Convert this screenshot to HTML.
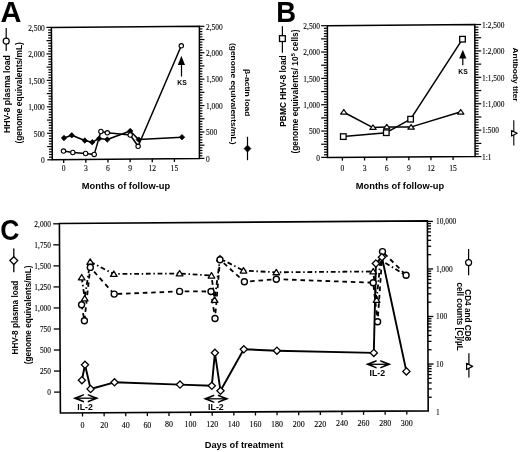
<!DOCTYPE html>
<html><head><meta charset="utf-8"><style>
html,body{margin:0;padding:0;background:#fff;}
svg{display:block;will-change:transform;}
</style></head><body>
<svg width="520" height="452" viewBox="0 0 520 452">
<rect width="520" height="452" fill="#fff"/>
<path d="M51.4,27.4L199.4,26.3L199.4,158.4L52.3,159.8Z" fill="none" stroke="#000" stroke-width="1.5" stroke-linejoin="miter"/>
<line x1="47.30" y1="159.80" x2="52.30" y2="159.80" stroke="#000" stroke-width="1.2" />
<text x="44.80" y="163.10" font-size="7.4" font-family="Liberation Serif, serif" stroke="#000" stroke-width="0.1" text-anchor="end" >0</text>
<line x1="48.98" y1="157.15" x2="52.28" y2="157.15" stroke="#000" stroke-width="1.2" />
<line x1="48.96" y1="154.50" x2="52.26" y2="154.50" stroke="#000" stroke-width="1.2" />
<line x1="48.95" y1="151.86" x2="52.25" y2="151.86" stroke="#000" stroke-width="1.2" />
<line x1="48.93" y1="149.21" x2="52.23" y2="149.21" stroke="#000" stroke-width="1.2" />
<line x1="47.21" y1="146.56" x2="52.21" y2="146.56" stroke="#000" stroke-width="1.2" />
<line x1="48.89" y1="143.91" x2="52.19" y2="143.91" stroke="#000" stroke-width="1.2" />
<line x1="48.87" y1="141.26" x2="52.17" y2="141.26" stroke="#000" stroke-width="1.2" />
<line x1="48.86" y1="138.62" x2="52.16" y2="138.62" stroke="#000" stroke-width="1.2" />
<line x1="48.84" y1="135.97" x2="52.14" y2="135.97" stroke="#000" stroke-width="1.2" />
<line x1="47.12" y1="133.32" x2="52.12" y2="133.32" stroke="#000" stroke-width="1.2" />
<text x="44.80" y="136.62" font-size="7.4" font-family="Liberation Serif, serif" stroke="#000" stroke-width="0.1" text-anchor="end" >500</text>
<line x1="48.80" y1="130.67" x2="52.10" y2="130.67" stroke="#000" stroke-width="1.2" />
<line x1="48.78" y1="128.02" x2="52.08" y2="128.02" stroke="#000" stroke-width="1.2" />
<line x1="48.77" y1="125.38" x2="52.07" y2="125.38" stroke="#000" stroke-width="1.2" />
<line x1="48.75" y1="122.73" x2="52.05" y2="122.73" stroke="#000" stroke-width="1.2" />
<line x1="47.03" y1="120.08" x2="52.03" y2="120.08" stroke="#000" stroke-width="1.2" />
<line x1="48.71" y1="117.43" x2="52.01" y2="117.43" stroke="#000" stroke-width="1.2" />
<line x1="48.69" y1="114.78" x2="51.99" y2="114.78" stroke="#000" stroke-width="1.2" />
<line x1="48.68" y1="112.14" x2="51.98" y2="112.14" stroke="#000" stroke-width="1.2" />
<line x1="48.66" y1="109.49" x2="51.96" y2="109.49" stroke="#000" stroke-width="1.2" />
<line x1="46.94" y1="106.84" x2="51.94" y2="106.84" stroke="#000" stroke-width="1.2" />
<text x="44.80" y="110.14" font-size="7.4" font-family="Liberation Serif, serif" stroke="#000" stroke-width="0.1" text-anchor="end" >1,000</text>
<line x1="48.62" y1="104.19" x2="51.92" y2="104.19" stroke="#000" stroke-width="1.2" />
<line x1="48.60" y1="101.54" x2="51.90" y2="101.54" stroke="#000" stroke-width="1.2" />
<line x1="48.59" y1="98.90" x2="51.89" y2="98.90" stroke="#000" stroke-width="1.2" />
<line x1="48.57" y1="96.25" x2="51.87" y2="96.25" stroke="#000" stroke-width="1.2" />
<line x1="46.85" y1="93.60" x2="51.85" y2="93.60" stroke="#000" stroke-width="1.2" />
<line x1="48.53" y1="90.95" x2="51.83" y2="90.95" stroke="#000" stroke-width="1.2" />
<line x1="48.51" y1="88.30" x2="51.81" y2="88.30" stroke="#000" stroke-width="1.2" />
<line x1="48.50" y1="85.66" x2="51.80" y2="85.66" stroke="#000" stroke-width="1.2" />
<line x1="48.48" y1="83.01" x2="51.78" y2="83.01" stroke="#000" stroke-width="1.2" />
<line x1="46.76" y1="80.36" x2="51.76" y2="80.36" stroke="#000" stroke-width="1.2" />
<text x="44.80" y="83.66" font-size="7.4" font-family="Liberation Serif, serif" stroke="#000" stroke-width="0.1" text-anchor="end" >1,500</text>
<line x1="48.44" y1="77.71" x2="51.74" y2="77.71" stroke="#000" stroke-width="1.2" />
<line x1="48.42" y1="75.06" x2="51.72" y2="75.06" stroke="#000" stroke-width="1.2" />
<line x1="48.41" y1="72.42" x2="51.71" y2="72.42" stroke="#000" stroke-width="1.2" />
<line x1="48.39" y1="69.77" x2="51.69" y2="69.77" stroke="#000" stroke-width="1.2" />
<line x1="46.67" y1="67.12" x2="51.67" y2="67.12" stroke="#000" stroke-width="1.2" />
<line x1="48.35" y1="64.47" x2="51.65" y2="64.47" stroke="#000" stroke-width="1.2" />
<line x1="48.33" y1="61.82" x2="51.63" y2="61.82" stroke="#000" stroke-width="1.2" />
<line x1="48.32" y1="59.18" x2="51.62" y2="59.18" stroke="#000" stroke-width="1.2" />
<line x1="48.30" y1="56.53" x2="51.60" y2="56.53" stroke="#000" stroke-width="1.2" />
<line x1="46.58" y1="53.88" x2="51.58" y2="53.88" stroke="#000" stroke-width="1.2" />
<text x="44.80" y="57.18" font-size="7.4" font-family="Liberation Serif, serif" stroke="#000" stroke-width="0.1" text-anchor="end" >2,000</text>
<line x1="48.26" y1="51.23" x2="51.56" y2="51.23" stroke="#000" stroke-width="1.2" />
<line x1="48.24" y1="48.58" x2="51.54" y2="48.58" stroke="#000" stroke-width="1.2" />
<line x1="48.23" y1="45.94" x2="51.53" y2="45.94" stroke="#000" stroke-width="1.2" />
<line x1="48.21" y1="43.29" x2="51.51" y2="43.29" stroke="#000" stroke-width="1.2" />
<line x1="46.49" y1="40.64" x2="51.49" y2="40.64" stroke="#000" stroke-width="1.2" />
<line x1="48.17" y1="37.99" x2="51.47" y2="37.99" stroke="#000" stroke-width="1.2" />
<line x1="48.15" y1="35.34" x2="51.45" y2="35.34" stroke="#000" stroke-width="1.2" />
<line x1="48.14" y1="32.70" x2="51.44" y2="32.70" stroke="#000" stroke-width="1.2" />
<line x1="48.12" y1="30.05" x2="51.42" y2="30.05" stroke="#000" stroke-width="1.2" />
<line x1="46.40" y1="27.40" x2="51.40" y2="27.40" stroke="#000" stroke-width="1.2" />
<text x="44.80" y="30.70" font-size="7.4" font-family="Liberation Serif, serif" stroke="#000" stroke-width="0.1" text-anchor="end" >2,500</text>
<line x1="199.40" y1="158.40" x2="204.40" y2="158.40" stroke="#000" stroke-width="1.2" />
<text x="206.00" y="161.70" font-size="7.4" font-family="Liberation Serif, serif" stroke="#000" stroke-width="0.1" text-anchor="start" >0</text>
<line x1="199.40" y1="155.76" x2="202.40" y2="155.76" stroke="#000" stroke-width="1.2" />
<line x1="199.40" y1="153.12" x2="202.40" y2="153.12" stroke="#000" stroke-width="1.2" />
<line x1="199.40" y1="150.47" x2="202.40" y2="150.47" stroke="#000" stroke-width="1.2" />
<line x1="199.40" y1="147.83" x2="202.40" y2="147.83" stroke="#000" stroke-width="1.2" />
<line x1="199.40" y1="145.19" x2="204.40" y2="145.19" stroke="#000" stroke-width="1.2" />
<line x1="199.40" y1="142.55" x2="202.40" y2="142.55" stroke="#000" stroke-width="1.2" />
<line x1="199.40" y1="139.91" x2="202.40" y2="139.91" stroke="#000" stroke-width="1.2" />
<line x1="199.40" y1="137.26" x2="202.40" y2="137.26" stroke="#000" stroke-width="1.2" />
<line x1="199.40" y1="134.62" x2="202.40" y2="134.62" stroke="#000" stroke-width="1.2" />
<line x1="199.40" y1="131.98" x2="204.40" y2="131.98" stroke="#000" stroke-width="1.2" />
<text x="206.00" y="135.28" font-size="7.4" font-family="Liberation Serif, serif" stroke="#000" stroke-width="0.1" text-anchor="start" >500</text>
<line x1="199.40" y1="129.34" x2="202.40" y2="129.34" stroke="#000" stroke-width="1.2" />
<line x1="199.40" y1="126.70" x2="202.40" y2="126.70" stroke="#000" stroke-width="1.2" />
<line x1="199.40" y1="124.05" x2="202.40" y2="124.05" stroke="#000" stroke-width="1.2" />
<line x1="199.40" y1="121.41" x2="202.40" y2="121.41" stroke="#000" stroke-width="1.2" />
<line x1="199.40" y1="118.77" x2="204.40" y2="118.77" stroke="#000" stroke-width="1.2" />
<line x1="199.40" y1="116.13" x2="202.40" y2="116.13" stroke="#000" stroke-width="1.2" />
<line x1="199.40" y1="113.49" x2="202.40" y2="113.49" stroke="#000" stroke-width="1.2" />
<line x1="199.40" y1="110.84" x2="202.40" y2="110.84" stroke="#000" stroke-width="1.2" />
<line x1="199.40" y1="108.20" x2="202.40" y2="108.20" stroke="#000" stroke-width="1.2" />
<line x1="199.40" y1="105.56" x2="204.40" y2="105.56" stroke="#000" stroke-width="1.2" />
<text x="206.00" y="108.86" font-size="7.4" font-family="Liberation Serif, serif" stroke="#000" stroke-width="0.1" text-anchor="start" >1,000</text>
<line x1="199.40" y1="102.92" x2="202.40" y2="102.92" stroke="#000" stroke-width="1.2" />
<line x1="199.40" y1="100.28" x2="202.40" y2="100.28" stroke="#000" stroke-width="1.2" />
<line x1="199.40" y1="97.63" x2="202.40" y2="97.63" stroke="#000" stroke-width="1.2" />
<line x1="199.40" y1="94.99" x2="202.40" y2="94.99" stroke="#000" stroke-width="1.2" />
<line x1="199.40" y1="92.35" x2="204.40" y2="92.35" stroke="#000" stroke-width="1.2" />
<line x1="199.40" y1="89.71" x2="202.40" y2="89.71" stroke="#000" stroke-width="1.2" />
<line x1="199.40" y1="87.07" x2="202.40" y2="87.07" stroke="#000" stroke-width="1.2" />
<line x1="199.40" y1="84.42" x2="202.40" y2="84.42" stroke="#000" stroke-width="1.2" />
<line x1="199.40" y1="81.78" x2="202.40" y2="81.78" stroke="#000" stroke-width="1.2" />
<line x1="199.40" y1="79.14" x2="204.40" y2="79.14" stroke="#000" stroke-width="1.2" />
<text x="206.00" y="82.44" font-size="7.4" font-family="Liberation Serif, serif" stroke="#000" stroke-width="0.1" text-anchor="start" >1,500</text>
<line x1="199.40" y1="76.50" x2="202.40" y2="76.50" stroke="#000" stroke-width="1.2" />
<line x1="199.40" y1="73.86" x2="202.40" y2="73.86" stroke="#000" stroke-width="1.2" />
<line x1="199.40" y1="71.21" x2="202.40" y2="71.21" stroke="#000" stroke-width="1.2" />
<line x1="199.40" y1="68.57" x2="202.40" y2="68.57" stroke="#000" stroke-width="1.2" />
<line x1="199.40" y1="65.93" x2="204.40" y2="65.93" stroke="#000" stroke-width="1.2" />
<line x1="199.40" y1="63.29" x2="202.40" y2="63.29" stroke="#000" stroke-width="1.2" />
<line x1="199.40" y1="60.65" x2="202.40" y2="60.65" stroke="#000" stroke-width="1.2" />
<line x1="199.40" y1="58.00" x2="202.40" y2="58.00" stroke="#000" stroke-width="1.2" />
<line x1="199.40" y1="55.36" x2="202.40" y2="55.36" stroke="#000" stroke-width="1.2" />
<line x1="199.40" y1="52.72" x2="204.40" y2="52.72" stroke="#000" stroke-width="1.2" />
<text x="206.00" y="56.02" font-size="7.4" font-family="Liberation Serif, serif" stroke="#000" stroke-width="0.1" text-anchor="start" >2,000</text>
<line x1="199.40" y1="50.08" x2="202.40" y2="50.08" stroke="#000" stroke-width="1.2" />
<line x1="199.40" y1="47.44" x2="202.40" y2="47.44" stroke="#000" stroke-width="1.2" />
<line x1="199.40" y1="44.79" x2="202.40" y2="44.79" stroke="#000" stroke-width="1.2" />
<line x1="199.40" y1="42.15" x2="202.40" y2="42.15" stroke="#000" stroke-width="1.2" />
<line x1="199.40" y1="39.51" x2="204.40" y2="39.51" stroke="#000" stroke-width="1.2" />
<line x1="199.40" y1="36.87" x2="202.40" y2="36.87" stroke="#000" stroke-width="1.2" />
<line x1="199.40" y1="34.23" x2="202.40" y2="34.23" stroke="#000" stroke-width="1.2" />
<line x1="199.40" y1="31.58" x2="202.40" y2="31.58" stroke="#000" stroke-width="1.2" />
<line x1="199.40" y1="28.94" x2="202.40" y2="28.94" stroke="#000" stroke-width="1.2" />
<line x1="199.40" y1="26.30" x2="204.40" y2="26.30" stroke="#000" stroke-width="1.2" />
<text x="206.00" y="29.60" font-size="7.4" font-family="Liberation Serif, serif" stroke="#000" stroke-width="0.1" text-anchor="start" >2,500</text>
<line x1="63.70" y1="159.69" x2="63.70" y2="162.99" stroke="#000" stroke-width="1.3" />
<text x="63.70" y="171.00" font-size="7.6" font-family="Liberation Serif, serif" stroke="#000" stroke-width="0.1" text-anchor="middle" >0</text>
<line x1="85.84" y1="159.48" x2="85.84" y2="162.78" stroke="#000" stroke-width="1.3" />
<text x="85.84" y="171.00" font-size="7.6" font-family="Liberation Serif, serif" stroke="#000" stroke-width="0.1" text-anchor="middle" >3</text>
<line x1="107.98" y1="159.27" x2="107.98" y2="162.57" stroke="#000" stroke-width="1.3" />
<text x="107.98" y="171.00" font-size="7.6" font-family="Liberation Serif, serif" stroke="#000" stroke-width="0.1" text-anchor="middle" >6</text>
<line x1="130.12" y1="159.06" x2="130.12" y2="162.36" stroke="#000" stroke-width="1.3" />
<text x="130.12" y="171.00" font-size="7.6" font-family="Liberation Serif, serif" stroke="#000" stroke-width="0.1" text-anchor="middle" >9</text>
<line x1="152.26" y1="158.85" x2="152.26" y2="162.15" stroke="#000" stroke-width="1.3" />
<text x="152.26" y="171.00" font-size="7.6" font-family="Liberation Serif, serif" stroke="#000" stroke-width="0.1" text-anchor="middle" >12</text>
<line x1="174.40" y1="158.64" x2="174.40" y2="161.94" stroke="#000" stroke-width="1.3" />
<text x="174.40" y="171.00" font-size="7.6" font-family="Liberation Serif, serif" stroke="#000" stroke-width="0.1" text-anchor="middle" >15</text>
<text x="126.00" y="188.50" font-size="9.3" font-family="Liberation Sans, sans-serif" font-weight="bold" text-anchor="middle" >Months of follow-up</text>
<text x="0.60" y="21.80" font-size="29" font-family="Liberation Sans, sans-serif" font-weight="bold" text-anchor="start" >A</text>
<text x="9.60" y="133.00" font-size="8.3" font-family="Liberation Sans, sans-serif" font-weight="bold" text-anchor="start" transform="rotate(-90 9.60 133.00)" textLength="77.8" lengthAdjust="spacingAndGlyphs" >HHV-8 plasma load</text>
<line x1="6.20" y1="28.00" x2="6.20" y2="51.00" stroke="#000" stroke-width="1.2" />
<circle cx="6.20" cy="41.20" r="3.0" fill="#fff" stroke="#000" stroke-width="1.2"/>
<text x="22.30" y="143.60" font-size="8.2" font-family="Liberation Sans, sans-serif" font-weight="bold" text-anchor="start" transform="rotate(-90 22.30 143.60)" textLength="101.5" lengthAdjust="spacingAndGlyphs" >(genome equivalents/mL)</text>
<text x="244.60" y="69.00" font-size="8.1" font-family="Liberation Sans, sans-serif" font-weight="bold" text-anchor="start" transform="rotate(90 244.60 69.00)" textLength="47.5" lengthAdjust="spacingAndGlyphs" >β-actin load</text>
<text x="230.60" y="43.00" font-size="8.0" font-family="Liberation Sans, sans-serif" font-weight="bold" text-anchor="start" transform="rotate(90 230.60 43.00)" textLength="101.5" lengthAdjust="spacingAndGlyphs" >(genome equivalents/mL)</text>
<line x1="247.50" y1="136.80" x2="247.50" y2="160.20" stroke="#000" stroke-width="1.2" />
<path d="M247.50,145.20L250.90,148.60L247.50,152.00L244.10,148.60Z" fill="#000" stroke="#000" stroke-width="0.8" stroke-linejoin="miter"/>
<polyline points="64.00,138.00 71.80,135.30 84.80,140.50 92.20,142.20 99.10,138.50 107.30,139.50 130.20,131.00 138.70,139.60 182.00,137.20" fill="none" stroke="#000" stroke-width="1.5" stroke-linejoin="round" />
<polyline points="63.50,151.10 72.80,152.50 85.60,153.50 94.20,154.40 100.90,131.50 107.30,132.80 130.20,135.00 138.10,146.30 181.30,45.80" fill="none" stroke="#000" stroke-width="1.5" stroke-linejoin="round" />
<path d="M64.00,135.30L66.70,138.00L64.00,140.70L61.30,138.00Z" fill="#000" stroke="#000" stroke-width="0.8" stroke-linejoin="miter"/>
<path d="M71.80,132.60L74.50,135.30L71.80,138.00L69.10,135.30Z" fill="#000" stroke="#000" stroke-width="0.8" stroke-linejoin="miter"/>
<path d="M84.80,137.80L87.50,140.50L84.80,143.20L82.10,140.50Z" fill="#000" stroke="#000" stroke-width="0.8" stroke-linejoin="miter"/>
<path d="M92.20,139.50L94.90,142.20L92.20,144.90L89.50,142.20Z" fill="#000" stroke="#000" stroke-width="0.8" stroke-linejoin="miter"/>
<path d="M99.10,135.80L101.80,138.50L99.10,141.20L96.40,138.50Z" fill="#000" stroke="#000" stroke-width="0.8" stroke-linejoin="miter"/>
<path d="M107.30,136.80L110.00,139.50L107.30,142.20L104.60,139.50Z" fill="#000" stroke="#000" stroke-width="0.8" stroke-linejoin="miter"/>
<path d="M130.20,128.30L132.90,131.00L130.20,133.70L127.50,131.00Z" fill="#000" stroke="#000" stroke-width="0.8" stroke-linejoin="miter"/>
<path d="M138.70,136.90L141.40,139.60L138.70,142.30L136.00,139.60Z" fill="#000" stroke="#000" stroke-width="0.8" stroke-linejoin="miter"/>
<path d="M182.00,134.50L184.70,137.20L182.00,139.90L179.30,137.20Z" fill="#000" stroke="#000" stroke-width="0.8" stroke-linejoin="miter"/>
<circle cx="63.50" cy="151.10" r="2.2" fill="#fff" stroke="#000" stroke-width="1.1"/>
<circle cx="72.80" cy="152.50" r="2.2" fill="#fff" stroke="#000" stroke-width="1.1"/>
<circle cx="85.60" cy="153.50" r="2.2" fill="#fff" stroke="#000" stroke-width="1.1"/>
<circle cx="94.20" cy="154.40" r="2.2" fill="#fff" stroke="#000" stroke-width="1.1"/>
<circle cx="100.90" cy="131.50" r="2.2" fill="#fff" stroke="#000" stroke-width="1.1"/>
<circle cx="107.30" cy="132.80" r="2.2" fill="#fff" stroke="#000" stroke-width="1.1"/>
<circle cx="130.20" cy="135.00" r="2.2" fill="#fff" stroke="#000" stroke-width="1.1"/>
<circle cx="138.10" cy="146.30" r="2.2" fill="#fff" stroke="#000" stroke-width="1.1"/>
<circle cx="181.30" cy="45.80" r="2.2" fill="#fff" stroke="#000" stroke-width="1.1"/>
<path d="M181.4,55.8L185.0,65.0L177.8,65.0Z" fill="#000"/>
<line x1="181.50" y1="63.00" x2="181.50" y2="76.50" stroke="#000" stroke-width="1.2" />
<text x="182.00" y="84.80" font-size="6.8" font-family="Liberation Sans, sans-serif" font-weight="bold" text-anchor="middle" >KS</text>
<path d="M327.4,25.7L474.8,24.5L475.1,156.6L327.5,157.4Z" fill="none" stroke="#000" stroke-width="1.5" stroke-linejoin="miter"/>
<line x1="321.20" y1="157.40" x2="327.50" y2="157.40" stroke="#000" stroke-width="1.2" />
<text x="320.00" y="160.70" font-size="7.4" font-family="Liberation Serif, serif" stroke="#000" stroke-width="0.1" text-anchor="end" >0</text>
<line x1="324.00" y1="154.77" x2="327.50" y2="154.77" stroke="#000" stroke-width="1.2" />
<line x1="324.00" y1="152.13" x2="327.50" y2="152.13" stroke="#000" stroke-width="1.2" />
<line x1="323.99" y1="149.50" x2="327.49" y2="149.50" stroke="#000" stroke-width="1.2" />
<line x1="323.99" y1="146.86" x2="327.49" y2="146.86" stroke="#000" stroke-width="1.2" />
<line x1="321.19" y1="144.23" x2="327.49" y2="144.23" stroke="#000" stroke-width="1.2" />
<line x1="323.99" y1="141.60" x2="327.49" y2="141.60" stroke="#000" stroke-width="1.2" />
<line x1="323.99" y1="138.96" x2="327.49" y2="138.96" stroke="#000" stroke-width="1.2" />
<line x1="323.98" y1="136.33" x2="327.48" y2="136.33" stroke="#000" stroke-width="1.2" />
<line x1="323.98" y1="133.69" x2="327.48" y2="133.69" stroke="#000" stroke-width="1.2" />
<line x1="321.18" y1="131.06" x2="327.48" y2="131.06" stroke="#000" stroke-width="1.2" />
<text x="320.00" y="134.36" font-size="7.4" font-family="Liberation Serif, serif" stroke="#000" stroke-width="0.1" text-anchor="end" >500</text>
<line x1="323.98" y1="128.43" x2="327.48" y2="128.43" stroke="#000" stroke-width="1.2" />
<line x1="323.98" y1="125.79" x2="327.48" y2="125.79" stroke="#000" stroke-width="1.2" />
<line x1="323.97" y1="123.16" x2="327.47" y2="123.16" stroke="#000" stroke-width="1.2" />
<line x1="323.97" y1="120.52" x2="327.47" y2="120.52" stroke="#000" stroke-width="1.2" />
<line x1="321.17" y1="117.89" x2="327.47" y2="117.89" stroke="#000" stroke-width="1.2" />
<line x1="323.97" y1="115.26" x2="327.47" y2="115.26" stroke="#000" stroke-width="1.2" />
<line x1="323.97" y1="112.62" x2="327.47" y2="112.62" stroke="#000" stroke-width="1.2" />
<line x1="323.96" y1="109.99" x2="327.46" y2="109.99" stroke="#000" stroke-width="1.2" />
<line x1="323.96" y1="107.35" x2="327.46" y2="107.35" stroke="#000" stroke-width="1.2" />
<line x1="321.16" y1="104.72" x2="327.46" y2="104.72" stroke="#000" stroke-width="1.2" />
<text x="320.00" y="108.02" font-size="7.4" font-family="Liberation Serif, serif" stroke="#000" stroke-width="0.1" text-anchor="end" >1,000</text>
<line x1="323.96" y1="102.09" x2="327.46" y2="102.09" stroke="#000" stroke-width="1.2" />
<line x1="323.96" y1="99.45" x2="327.46" y2="99.45" stroke="#000" stroke-width="1.2" />
<line x1="323.95" y1="96.82" x2="327.45" y2="96.82" stroke="#000" stroke-width="1.2" />
<line x1="323.95" y1="94.18" x2="327.45" y2="94.18" stroke="#000" stroke-width="1.2" />
<line x1="321.15" y1="91.55" x2="327.45" y2="91.55" stroke="#000" stroke-width="1.2" />
<line x1="323.95" y1="88.92" x2="327.45" y2="88.92" stroke="#000" stroke-width="1.2" />
<line x1="323.95" y1="86.28" x2="327.45" y2="86.28" stroke="#000" stroke-width="1.2" />
<line x1="323.94" y1="83.65" x2="327.44" y2="83.65" stroke="#000" stroke-width="1.2" />
<line x1="323.94" y1="81.01" x2="327.44" y2="81.01" stroke="#000" stroke-width="1.2" />
<line x1="321.14" y1="78.38" x2="327.44" y2="78.38" stroke="#000" stroke-width="1.2" />
<text x="320.00" y="81.68" font-size="7.4" font-family="Liberation Serif, serif" stroke="#000" stroke-width="0.1" text-anchor="end" >1,500</text>
<line x1="323.94" y1="75.75" x2="327.44" y2="75.75" stroke="#000" stroke-width="1.2" />
<line x1="323.94" y1="73.11" x2="327.44" y2="73.11" stroke="#000" stroke-width="1.2" />
<line x1="323.93" y1="70.48" x2="327.43" y2="70.48" stroke="#000" stroke-width="1.2" />
<line x1="323.93" y1="67.84" x2="327.43" y2="67.84" stroke="#000" stroke-width="1.2" />
<line x1="321.13" y1="65.21" x2="327.43" y2="65.21" stroke="#000" stroke-width="1.2" />
<line x1="323.93" y1="62.58" x2="327.43" y2="62.58" stroke="#000" stroke-width="1.2" />
<line x1="323.93" y1="59.94" x2="327.43" y2="59.94" stroke="#000" stroke-width="1.2" />
<line x1="323.92" y1="57.31" x2="327.42" y2="57.31" stroke="#000" stroke-width="1.2" />
<line x1="323.92" y1="54.67" x2="327.42" y2="54.67" stroke="#000" stroke-width="1.2" />
<line x1="321.12" y1="52.04" x2="327.42" y2="52.04" stroke="#000" stroke-width="1.2" />
<text x="320.00" y="55.34" font-size="7.4" font-family="Liberation Serif, serif" stroke="#000" stroke-width="0.1" text-anchor="end" >2,000</text>
<line x1="323.92" y1="49.41" x2="327.42" y2="49.41" stroke="#000" stroke-width="1.2" />
<line x1="323.92" y1="46.77" x2="327.42" y2="46.77" stroke="#000" stroke-width="1.2" />
<line x1="323.91" y1="44.14" x2="327.41" y2="44.14" stroke="#000" stroke-width="1.2" />
<line x1="323.91" y1="41.50" x2="327.41" y2="41.50" stroke="#000" stroke-width="1.2" />
<line x1="321.11" y1="38.87" x2="327.41" y2="38.87" stroke="#000" stroke-width="1.2" />
<line x1="323.91" y1="36.24" x2="327.41" y2="36.24" stroke="#000" stroke-width="1.2" />
<line x1="323.91" y1="33.60" x2="327.41" y2="33.60" stroke="#000" stroke-width="1.2" />
<line x1="323.90" y1="30.97" x2="327.40" y2="30.97" stroke="#000" stroke-width="1.2" />
<line x1="323.90" y1="28.33" x2="327.40" y2="28.33" stroke="#000" stroke-width="1.2" />
<line x1="321.10" y1="25.70" x2="327.40" y2="25.70" stroke="#000" stroke-width="1.2" />
<text x="320.00" y="29.00" font-size="7.4" font-family="Liberation Serif, serif" stroke="#000" stroke-width="0.1" text-anchor="end" >2,500</text>
<line x1="475.10" y1="156.60" x2="481.40" y2="156.60" stroke="#000" stroke-width="1.2" />
<text x="482.00" y="159.90" font-size="7.4" font-family="Liberation Serif, serif" stroke="#000" stroke-width="0.1" text-anchor="start" >1:1</text>
<line x1="475.09" y1="153.96" x2="478.69" y2="153.96" stroke="#000" stroke-width="1.2" />
<line x1="475.09" y1="151.32" x2="478.69" y2="151.32" stroke="#000" stroke-width="1.2" />
<line x1="475.08" y1="148.67" x2="478.68" y2="148.67" stroke="#000" stroke-width="1.2" />
<line x1="475.08" y1="146.03" x2="478.68" y2="146.03" stroke="#000" stroke-width="1.2" />
<line x1="475.07" y1="143.39" x2="481.37" y2="143.39" stroke="#000" stroke-width="1.2" />
<line x1="475.06" y1="140.75" x2="478.66" y2="140.75" stroke="#000" stroke-width="1.2" />
<line x1="475.06" y1="138.11" x2="478.66" y2="138.11" stroke="#000" stroke-width="1.2" />
<line x1="475.05" y1="135.46" x2="478.65" y2="135.46" stroke="#000" stroke-width="1.2" />
<line x1="475.05" y1="132.82" x2="478.65" y2="132.82" stroke="#000" stroke-width="1.2" />
<line x1="475.04" y1="130.18" x2="481.34" y2="130.18" stroke="#000" stroke-width="1.2" />
<text x="482.00" y="133.48" font-size="7.4" font-family="Liberation Serif, serif" stroke="#000" stroke-width="0.1" text-anchor="start" >1:500</text>
<line x1="475.03" y1="127.54" x2="478.63" y2="127.54" stroke="#000" stroke-width="1.2" />
<line x1="475.03" y1="124.90" x2="478.63" y2="124.90" stroke="#000" stroke-width="1.2" />
<line x1="475.02" y1="122.25" x2="478.62" y2="122.25" stroke="#000" stroke-width="1.2" />
<line x1="475.02" y1="119.61" x2="478.62" y2="119.61" stroke="#000" stroke-width="1.2" />
<line x1="475.01" y1="116.97" x2="481.31" y2="116.97" stroke="#000" stroke-width="1.2" />
<line x1="475.00" y1="114.33" x2="478.60" y2="114.33" stroke="#000" stroke-width="1.2" />
<line x1="475.00" y1="111.69" x2="478.60" y2="111.69" stroke="#000" stroke-width="1.2" />
<line x1="474.99" y1="109.04" x2="478.59" y2="109.04" stroke="#000" stroke-width="1.2" />
<line x1="474.99" y1="106.40" x2="478.59" y2="106.40" stroke="#000" stroke-width="1.2" />
<line x1="474.98" y1="103.76" x2="481.28" y2="103.76" stroke="#000" stroke-width="1.2" />
<text x="482.00" y="107.06" font-size="7.4" font-family="Liberation Serif, serif" stroke="#000" stroke-width="0.1" text-anchor="start" >1:1,000</text>
<line x1="474.97" y1="101.12" x2="478.57" y2="101.12" stroke="#000" stroke-width="1.2" />
<line x1="474.97" y1="98.48" x2="478.57" y2="98.48" stroke="#000" stroke-width="1.2" />
<line x1="474.96" y1="95.83" x2="478.56" y2="95.83" stroke="#000" stroke-width="1.2" />
<line x1="474.96" y1="93.19" x2="478.56" y2="93.19" stroke="#000" stroke-width="1.2" />
<line x1="474.95" y1="90.55" x2="481.25" y2="90.55" stroke="#000" stroke-width="1.2" />
<line x1="474.94" y1="87.91" x2="478.54" y2="87.91" stroke="#000" stroke-width="1.2" />
<line x1="474.94" y1="85.27" x2="478.54" y2="85.27" stroke="#000" stroke-width="1.2" />
<line x1="474.93" y1="82.62" x2="478.53" y2="82.62" stroke="#000" stroke-width="1.2" />
<line x1="474.93" y1="79.98" x2="478.53" y2="79.98" stroke="#000" stroke-width="1.2" />
<line x1="474.92" y1="77.34" x2="481.22" y2="77.34" stroke="#000" stroke-width="1.2" />
<text x="482.00" y="80.64" font-size="7.4" font-family="Liberation Serif, serif" stroke="#000" stroke-width="0.1" text-anchor="start" >1:1,500</text>
<line x1="474.91" y1="74.70" x2="478.51" y2="74.70" stroke="#000" stroke-width="1.2" />
<line x1="474.91" y1="72.06" x2="478.51" y2="72.06" stroke="#000" stroke-width="1.2" />
<line x1="474.90" y1="69.41" x2="478.50" y2="69.41" stroke="#000" stroke-width="1.2" />
<line x1="474.90" y1="66.77" x2="478.50" y2="66.77" stroke="#000" stroke-width="1.2" />
<line x1="474.89" y1="64.13" x2="481.19" y2="64.13" stroke="#000" stroke-width="1.2" />
<line x1="474.88" y1="61.49" x2="478.48" y2="61.49" stroke="#000" stroke-width="1.2" />
<line x1="474.88" y1="58.85" x2="478.48" y2="58.85" stroke="#000" stroke-width="1.2" />
<line x1="474.87" y1="56.20" x2="478.47" y2="56.20" stroke="#000" stroke-width="1.2" />
<line x1="474.87" y1="53.56" x2="478.47" y2="53.56" stroke="#000" stroke-width="1.2" />
<line x1="474.86" y1="50.92" x2="481.16" y2="50.92" stroke="#000" stroke-width="1.2" />
<text x="482.00" y="54.22" font-size="7.4" font-family="Liberation Serif, serif" stroke="#000" stroke-width="0.1" text-anchor="start" >1:2,000</text>
<line x1="474.85" y1="48.28" x2="478.45" y2="48.28" stroke="#000" stroke-width="1.2" />
<line x1="474.85" y1="45.64" x2="478.45" y2="45.64" stroke="#000" stroke-width="1.2" />
<line x1="474.84" y1="42.99" x2="478.44" y2="42.99" stroke="#000" stroke-width="1.2" />
<line x1="474.84" y1="40.35" x2="478.44" y2="40.35" stroke="#000" stroke-width="1.2" />
<line x1="474.83" y1="37.71" x2="481.13" y2="37.71" stroke="#000" stroke-width="1.2" />
<line x1="474.82" y1="35.07" x2="478.42" y2="35.07" stroke="#000" stroke-width="1.2" />
<line x1="474.82" y1="32.43" x2="478.42" y2="32.43" stroke="#000" stroke-width="1.2" />
<line x1="474.81" y1="29.78" x2="478.41" y2="29.78" stroke="#000" stroke-width="1.2" />
<line x1="474.81" y1="27.14" x2="478.41" y2="27.14" stroke="#000" stroke-width="1.2" />
<line x1="474.80" y1="24.50" x2="481.10" y2="24.50" stroke="#000" stroke-width="1.2" />
<text x="482.00" y="27.80" font-size="7.4" font-family="Liberation Serif, serif" stroke="#000" stroke-width="0.1" text-anchor="start" >1:2,500</text>
<line x1="342.40" y1="157.32" x2="342.40" y2="160.62" stroke="#000" stroke-width="1.3" />
<text x="342.40" y="170.60" font-size="7.6" font-family="Liberation Serif, serif" stroke="#000" stroke-width="0.1" text-anchor="middle" >0</text>
<line x1="364.54" y1="157.20" x2="364.54" y2="160.50" stroke="#000" stroke-width="1.3" />
<text x="364.54" y="170.60" font-size="7.6" font-family="Liberation Serif, serif" stroke="#000" stroke-width="0.1" text-anchor="middle" >3</text>
<line x1="386.68" y1="157.08" x2="386.68" y2="160.38" stroke="#000" stroke-width="1.3" />
<text x="386.68" y="170.60" font-size="7.6" font-family="Liberation Serif, serif" stroke="#000" stroke-width="0.1" text-anchor="middle" >6</text>
<line x1="408.82" y1="156.96" x2="408.82" y2="160.26" stroke="#000" stroke-width="1.3" />
<text x="408.82" y="170.60" font-size="7.6" font-family="Liberation Serif, serif" stroke="#000" stroke-width="0.1" text-anchor="middle" >9</text>
<line x1="430.96" y1="156.84" x2="430.96" y2="160.14" stroke="#000" stroke-width="1.3" />
<text x="430.96" y="170.60" font-size="7.6" font-family="Liberation Serif, serif" stroke="#000" stroke-width="0.1" text-anchor="middle" >12</text>
<line x1="453.10" y1="156.72" x2="453.10" y2="160.02" stroke="#000" stroke-width="1.3" />
<text x="453.10" y="170.60" font-size="7.6" font-family="Liberation Serif, serif" stroke="#000" stroke-width="0.1" text-anchor="middle" >15</text>
<text x="400.00" y="188.50" font-size="9.3" font-family="Liberation Sans, sans-serif" font-weight="bold" text-anchor="middle" >Months of follow-up</text>
<text x="276.20" y="21.80" font-size="29" font-family="Liberation Sans, sans-serif" font-weight="bold" text-anchor="start" textLength="19.8" lengthAdjust="spacingAndGlyphs" >B</text>
<text x="286.00" y="126.80" font-size="8.2" font-family="Liberation Sans, sans-serif" font-weight="bold" text-anchor="start" transform="rotate(-90 286.00 126.80)" textLength="71.5" lengthAdjust="spacingAndGlyphs" >PBMC HHV-8 load</text>
<line x1="282.40" y1="26.20" x2="282.40" y2="52.70" stroke="#000" stroke-width="1.2" />
<rect x="279.50" y="35.70" width="5.8" height="5.8" fill="#fff" stroke="#000" stroke-width="1.3"/>
<text x="298.00" y="153.60" font-size="8.4" font-family="Liberation Sans, sans-serif" font-weight="bold" text-anchor="start" transform="rotate(-90 298.00 153.60)" >(genome equivalents/ 10<tspan dy="-3" font-size="5.5">5</tspan><tspan dy="3"> cells)</tspan></text>
<text x="512.60" y="47.60" font-size="8.0" font-family="Liberation Sans, sans-serif" font-weight="bold" text-anchor="start" transform="rotate(90 512.60 47.60)" textLength="54.0" lengthAdjust="spacingAndGlyphs" >Antibody titer</text>
<line x1="513.80" y1="120.30" x2="513.80" y2="145.60" stroke="#000" stroke-width="1.1" />
<polygon points="517.18,133.30 511.58,136.00 511.58,130.60" fill="#fff" stroke="#000" stroke-width="1.2" stroke-linejoin="round"/>
<polyline points="343.30,136.60 386.30,132.70 410.60,119.20 462.50,39.20" fill="none" stroke="#000" stroke-width="1.5" stroke-linejoin="round" />
<polyline points="343.30,112.00 372.50,127.40 386.30,126.90 410.60,127.10 460.20,112.00" fill="none" stroke="#000" stroke-width="1.5" stroke-linejoin="round" />
<rect x="340.50" y="133.80" width="5.6" height="5.6" fill="#fff" stroke="#000" stroke-width="1.3"/>
<rect x="383.50" y="129.90" width="5.6" height="5.6" fill="#fff" stroke="#000" stroke-width="1.3"/>
<rect x="407.80" y="116.40" width="5.6" height="5.6" fill="#fff" stroke="#000" stroke-width="1.3"/>
<rect x="459.70" y="36.40" width="5.6" height="5.6" fill="#fff" stroke="#000" stroke-width="1.3"/>
<polygon points="343.80,109.47 347.00,114.07 340.60,114.07" fill="#fff" stroke="#000" stroke-width="1.2" stroke-linejoin="round"/>
<polygon points="373.00,124.87 376.20,129.47 369.80,129.47" fill="#fff" stroke="#000" stroke-width="1.2" stroke-linejoin="round"/>
<polygon points="386.80,124.37 390.00,128.97 383.60,128.97" fill="#fff" stroke="#000" stroke-width="1.2" stroke-linejoin="round"/>
<polygon points="411.10,124.57 414.30,129.17 407.90,129.17" fill="#fff" stroke="#000" stroke-width="1.2" stroke-linejoin="round"/>
<polygon points="460.70,109.47 463.90,114.07 457.50,114.07" fill="#fff" stroke="#000" stroke-width="1.2" stroke-linejoin="round"/>
<path d="M462.8,49.8L466.4,58.6L459.2,58.6Z" fill="#000"/>
<line x1="462.80" y1="56.00" x2="462.80" y2="65.20" stroke="#000" stroke-width="1.2" />
<text x="463.00" y="73.80" font-size="6.8" font-family="Liberation Sans, sans-serif" font-weight="bold" text-anchor="middle" >KS</text>
<path d="M59.4,223.5L427.4,220.9L428.2,410.9L60.4,413.0Z" fill="none" stroke="#000" stroke-width="1.6" stroke-linejoin="miter"/>
<line x1="54.09" y1="392.10" x2="60.29" y2="392.10" stroke="#000" stroke-width="1.3" />
<text x="0" y="0" font-size="7.4" font-family="Liberation Serif, serif" stroke="#000" stroke-width="0.1" text-anchor="end" transform="translate(51.00 395.00) rotate(0) scale(1 1.12)" >0</text>
<line x1="53.98" y1="371.06" x2="60.18" y2="371.06" stroke="#000" stroke-width="1.3" />
<text x="0" y="0" font-size="7.4" font-family="Liberation Serif, serif" stroke="#000" stroke-width="0.1" text-anchor="end" transform="translate(51.00 373.96) rotate(0) scale(1 1.12)" >250</text>
<line x1="53.87" y1="350.03" x2="60.07" y2="350.03" stroke="#000" stroke-width="1.3" />
<text x="0" y="0" font-size="7.4" font-family="Liberation Serif, serif" stroke="#000" stroke-width="0.1" text-anchor="end" transform="translate(51.00 352.93) rotate(0) scale(1 1.12)" >500</text>
<line x1="53.76" y1="328.99" x2="59.96" y2="328.99" stroke="#000" stroke-width="1.3" />
<text x="0" y="0" font-size="7.4" font-family="Liberation Serif, serif" stroke="#000" stroke-width="0.1" text-anchor="end" transform="translate(51.00 331.89) rotate(0) scale(1 1.12)" >750</text>
<line x1="53.65" y1="307.95" x2="59.85" y2="307.95" stroke="#000" stroke-width="1.3" />
<text x="0" y="0" font-size="7.4" font-family="Liberation Serif, serif" stroke="#000" stroke-width="0.1" text-anchor="end" transform="translate(51.00 310.85) rotate(0) scale(1 1.12)" >1,000</text>
<line x1="53.53" y1="286.91" x2="59.73" y2="286.91" stroke="#000" stroke-width="1.3" />
<text x="0" y="0" font-size="7.4" font-family="Liberation Serif, serif" stroke="#000" stroke-width="0.1" text-anchor="end" transform="translate(51.00 289.81) rotate(0) scale(1 1.12)" >1,250</text>
<line x1="53.42" y1="265.88" x2="59.62" y2="265.88" stroke="#000" stroke-width="1.3" />
<text x="0" y="0" font-size="7.4" font-family="Liberation Serif, serif" stroke="#000" stroke-width="0.1" text-anchor="end" transform="translate(51.00 268.77) rotate(0) scale(1 1.12)" >1,500</text>
<line x1="53.31" y1="244.84" x2="59.51" y2="244.84" stroke="#000" stroke-width="1.3" />
<text x="0" y="0" font-size="7.4" font-family="Liberation Serif, serif" stroke="#000" stroke-width="0.1" text-anchor="end" transform="translate(51.00 247.74) rotate(0) scale(1 1.12)" >1,750</text>
<line x1="53.20" y1="223.80" x2="59.40" y2="223.80" stroke="#000" stroke-width="1.3" />
<text x="0" y="0" font-size="7.4" font-family="Liberation Serif, serif" stroke="#000" stroke-width="0.1" text-anchor="end" transform="translate(51.00 226.70) rotate(0) scale(1 1.12)" >2,000</text>
<line x1="428.20" y1="411.60" x2="428.20" y2="411.60" stroke="#000" stroke-width="1.3" />
<line x1="428.14" y1="397.29" x2="431.74" y2="397.29" stroke="#000" stroke-width="1.3" />
<line x1="428.11" y1="388.91" x2="431.71" y2="388.91" stroke="#000" stroke-width="1.3" />
<line x1="428.08" y1="382.97" x2="431.68" y2="382.97" stroke="#000" stroke-width="1.3" />
<line x1="428.06" y1="378.36" x2="431.66" y2="378.36" stroke="#000" stroke-width="1.3" />
<line x1="428.05" y1="374.60" x2="431.65" y2="374.60" stroke="#000" stroke-width="1.3" />
<line x1="428.03" y1="371.42" x2="431.63" y2="371.42" stroke="#000" stroke-width="1.3" />
<line x1="428.02" y1="368.66" x2="431.62" y2="368.66" stroke="#000" stroke-width="1.3" />
<line x1="428.01" y1="366.23" x2="431.61" y2="366.23" stroke="#000" stroke-width="1.3" />
<line x1="428.00" y1="364.05" x2="433.50" y2="364.05" stroke="#000" stroke-width="1.3" />
<line x1="427.94" y1="349.74" x2="431.54" y2="349.74" stroke="#000" stroke-width="1.3" />
<line x1="427.91" y1="341.36" x2="431.51" y2="341.36" stroke="#000" stroke-width="1.3" />
<line x1="427.88" y1="335.42" x2="431.48" y2="335.42" stroke="#000" stroke-width="1.3" />
<line x1="427.86" y1="330.81" x2="431.46" y2="330.81" stroke="#000" stroke-width="1.3" />
<line x1="427.85" y1="327.05" x2="431.45" y2="327.05" stroke="#000" stroke-width="1.3" />
<line x1="427.83" y1="323.87" x2="431.43" y2="323.87" stroke="#000" stroke-width="1.3" />
<line x1="427.82" y1="321.11" x2="431.42" y2="321.11" stroke="#000" stroke-width="1.3" />
<line x1="427.81" y1="318.68" x2="431.41" y2="318.68" stroke="#000" stroke-width="1.3" />
<line x1="427.80" y1="316.50" x2="433.30" y2="316.50" stroke="#000" stroke-width="1.3" />
<line x1="427.74" y1="302.19" x2="431.34" y2="302.19" stroke="#000" stroke-width="1.3" />
<line x1="427.71" y1="293.81" x2="431.31" y2="293.81" stroke="#000" stroke-width="1.3" />
<line x1="427.68" y1="287.87" x2="431.28" y2="287.87" stroke="#000" stroke-width="1.3" />
<line x1="427.66" y1="283.26" x2="431.26" y2="283.26" stroke="#000" stroke-width="1.3" />
<line x1="427.65" y1="279.50" x2="431.25" y2="279.50" stroke="#000" stroke-width="1.3" />
<line x1="427.63" y1="276.32" x2="431.23" y2="276.32" stroke="#000" stroke-width="1.3" />
<line x1="427.62" y1="273.56" x2="431.22" y2="273.56" stroke="#000" stroke-width="1.3" />
<line x1="427.61" y1="271.13" x2="431.21" y2="271.13" stroke="#000" stroke-width="1.3" />
<line x1="427.60" y1="268.95" x2="433.10" y2="268.95" stroke="#000" stroke-width="1.3" />
<line x1="427.54" y1="254.64" x2="431.14" y2="254.64" stroke="#000" stroke-width="1.3" />
<line x1="427.51" y1="246.26" x2="431.11" y2="246.26" stroke="#000" stroke-width="1.3" />
<line x1="427.48" y1="240.32" x2="431.08" y2="240.32" stroke="#000" stroke-width="1.3" />
<line x1="427.46" y1="235.71" x2="431.06" y2="235.71" stroke="#000" stroke-width="1.3" />
<line x1="427.45" y1="231.95" x2="431.05" y2="231.95" stroke="#000" stroke-width="1.3" />
<line x1="427.43" y1="228.77" x2="431.03" y2="228.77" stroke="#000" stroke-width="1.3" />
<line x1="427.42" y1="226.01" x2="431.02" y2="226.01" stroke="#000" stroke-width="1.3" />
<line x1="427.41" y1="223.58" x2="431.01" y2="223.58" stroke="#000" stroke-width="1.3" />
<text x="0" y="0" font-size="7.4" font-family="Liberation Serif, serif" stroke="#000" stroke-width="0.1" text-anchor="start" transform="translate(436.00 414.50) rotate(0) scale(1 1.12)" >1</text>
<text x="0" y="0" font-size="7.4" font-family="Liberation Serif, serif" stroke="#000" stroke-width="0.1" text-anchor="start" transform="translate(436.00 366.95) rotate(0) scale(1 1.12)" >10</text>
<text x="0" y="0" font-size="7.4" font-family="Liberation Serif, serif" stroke="#000" stroke-width="0.1" text-anchor="start" transform="translate(436.00 319.40) rotate(0) scale(1 1.12)" >100</text>
<text x="0" y="0" font-size="7.4" font-family="Liberation Serif, serif" stroke="#000" stroke-width="0.1" text-anchor="start" transform="translate(436.00 271.85) rotate(0) scale(1 1.12)" >1,000</text>
<line x1="427.40" y1="221.40" x2="432.90" y2="221.40" stroke="#000" stroke-width="1.3" />
<text x="0" y="0" font-size="7.4" font-family="Liberation Serif, serif" stroke="#000" stroke-width="0.1" text-anchor="start" transform="translate(436.00 224.30) rotate(0) scale(1 1.12)" >10,000</text>
<line x1="82.50" y1="412.87" x2="82.50" y2="416.47" stroke="#000" stroke-width="1.3" />
<text x="0" y="0" font-size="8.0" font-family="Liberation Serif, serif" stroke="#000" stroke-width="0.1" text-anchor="middle" transform="translate(82.50 427.97) rotate(0) scale(1 1.1)" >0</text>
<line x1="104.12" y1="412.75" x2="104.12" y2="416.35" stroke="#000" stroke-width="1.3" />
<text x="0" y="0" font-size="8.0" font-family="Liberation Serif, serif" stroke="#000" stroke-width="0.1" text-anchor="middle" transform="translate(104.12 427.85) rotate(0) scale(1 1.1)" >20</text>
<line x1="125.74" y1="412.63" x2="125.74" y2="416.23" stroke="#000" stroke-width="1.3" />
<text x="0" y="0" font-size="8.0" font-family="Liberation Serif, serif" stroke="#000" stroke-width="0.1" text-anchor="middle" transform="translate(125.74 427.73) rotate(0) scale(1 1.1)" >40</text>
<line x1="147.36" y1="412.50" x2="147.36" y2="416.10" stroke="#000" stroke-width="1.3" />
<text x="0" y="0" font-size="8.0" font-family="Liberation Serif, serif" stroke="#000" stroke-width="0.1" text-anchor="middle" transform="translate(147.36 427.60) rotate(0) scale(1 1.1)" >60</text>
<line x1="168.98" y1="412.38" x2="168.98" y2="415.98" stroke="#000" stroke-width="1.3" />
<text x="0" y="0" font-size="8.0" font-family="Liberation Serif, serif" stroke="#000" stroke-width="0.1" text-anchor="middle" transform="translate(168.98 427.48) rotate(0) scale(1 1.1)" >80</text>
<line x1="190.60" y1="412.26" x2="190.60" y2="415.86" stroke="#000" stroke-width="1.3" />
<text x="0" y="0" font-size="8.0" font-family="Liberation Serif, serif" stroke="#000" stroke-width="0.1" text-anchor="middle" transform="translate(190.60 427.36) rotate(0) scale(1 1.1)" >100</text>
<line x1="212.22" y1="412.13" x2="212.22" y2="415.73" stroke="#000" stroke-width="1.3" />
<text x="0" y="0" font-size="8.0" font-family="Liberation Serif, serif" stroke="#000" stroke-width="0.1" text-anchor="middle" transform="translate(212.22 427.23) rotate(0) scale(1 1.1)" >120</text>
<line x1="233.84" y1="412.01" x2="233.84" y2="415.61" stroke="#000" stroke-width="1.3" />
<text x="0" y="0" font-size="8.0" font-family="Liberation Serif, serif" stroke="#000" stroke-width="0.1" text-anchor="middle" transform="translate(233.84 427.11) rotate(0) scale(1 1.1)" >140</text>
<line x1="255.46" y1="411.89" x2="255.46" y2="415.49" stroke="#000" stroke-width="1.3" />
<text x="0" y="0" font-size="8.0" font-family="Liberation Serif, serif" stroke="#000" stroke-width="0.1" text-anchor="middle" transform="translate(255.46 426.99) rotate(0) scale(1 1.1)" >160</text>
<line x1="277.08" y1="411.76" x2="277.08" y2="415.36" stroke="#000" stroke-width="1.3" />
<text x="0" y="0" font-size="8.0" font-family="Liberation Serif, serif" stroke="#000" stroke-width="0.1" text-anchor="middle" transform="translate(277.08 426.86) rotate(0) scale(1 1.1)" >180</text>
<line x1="298.70" y1="411.64" x2="298.70" y2="415.24" stroke="#000" stroke-width="1.3" />
<text x="0" y="0" font-size="8.0" font-family="Liberation Serif, serif" stroke="#000" stroke-width="0.1" text-anchor="middle" transform="translate(298.70 426.74) rotate(0) scale(1 1.1)" >200</text>
<line x1="320.32" y1="411.52" x2="320.32" y2="415.12" stroke="#000" stroke-width="1.3" />
<text x="0" y="0" font-size="8.0" font-family="Liberation Serif, serif" stroke="#000" stroke-width="0.1" text-anchor="middle" transform="translate(320.32 426.62) rotate(0) scale(1 1.1)" >220</text>
<line x1="341.94" y1="411.39" x2="341.94" y2="414.99" stroke="#000" stroke-width="1.3" />
<text x="0" y="0" font-size="8.0" font-family="Liberation Serif, serif" stroke="#000" stroke-width="0.1" text-anchor="middle" transform="translate(341.94 426.49) rotate(0) scale(1 1.1)" >240</text>
<line x1="363.56" y1="411.27" x2="363.56" y2="414.87" stroke="#000" stroke-width="1.3" />
<text x="0" y="0" font-size="8.0" font-family="Liberation Serif, serif" stroke="#000" stroke-width="0.1" text-anchor="middle" transform="translate(363.56 426.37) rotate(0) scale(1 1.1)" >260</text>
<line x1="385.18" y1="411.15" x2="385.18" y2="414.75" stroke="#000" stroke-width="1.3" />
<text x="0" y="0" font-size="8.0" font-family="Liberation Serif, serif" stroke="#000" stroke-width="0.1" text-anchor="middle" transform="translate(385.18 426.25) rotate(0) scale(1 1.1)" >280</text>
<line x1="406.80" y1="411.02" x2="406.80" y2="414.62" stroke="#000" stroke-width="1.3" />
<text x="0" y="0" font-size="8.0" font-family="Liberation Serif, serif" stroke="#000" stroke-width="0.1" text-anchor="middle" transform="translate(406.80 426.12) rotate(0) scale(1 1.1)" >300</text>
<text x="244.00" y="447.90" font-size="9.3" font-family="Liberation Sans, sans-serif" font-weight="bold" text-anchor="middle" >Days of treatment</text>
<text x="0.30" y="240.40" font-size="29" font-family="Liberation Sans, sans-serif" font-weight="bold" text-anchor="start" textLength="19.2" lengthAdjust="spacingAndGlyphs" >C</text>
<text x="17.80" y="354.50" font-size="8.2" font-family="Liberation Sans, sans-serif" font-weight="bold" text-anchor="start" transform="rotate(-90 17.80 354.50)" >HHV-8 plasma load</text>
<line x1="13.80" y1="248.40" x2="13.80" y2="272.30" stroke="#000" stroke-width="1.3" />
<path d="M13.80,256.70L17.70,260.60L13.80,264.50L9.90,260.60Z" fill="#fff" stroke="#000" stroke-width="1.3" stroke-linejoin="miter"/>
<text x="31.00" y="364.20" font-size="8.2" font-family="Liberation Sans, sans-serif" font-weight="bold" text-anchor="start" transform="rotate(-90 31.00 364.20)" >(genome equivalents/mL)</text>
<text x="465.40" y="315.20" font-size="8.2" font-family="Liberation Sans, sans-serif" font-weight="bold" text-anchor="middle" transform="rotate(90 465.40 315.20)" >CD4 and CD8</text>
<text x="457.30" y="316.60" font-size="8.2" font-family="Liberation Sans, sans-serif" font-weight="bold" text-anchor="middle" transform="rotate(90 457.30 316.60)" >cell counts [C]/µL</text>
<line x1="468.60" y1="249.00" x2="468.60" y2="275.20" stroke="#000" stroke-width="1.2" />
<circle cx="468.60" cy="262.60" r="3.0" fill="#fff" stroke="#000" stroke-width="1.2"/>
<line x1="468.90" y1="353.30" x2="468.90" y2="377.60" stroke="#000" stroke-width="1.2" />
<polygon points="472.60,366.40 466.60,369.50 466.60,363.30" fill="#fff" stroke="#000" stroke-width="1.2" stroke-linejoin="round"/>
<polyline points="81.70,277.50 84.70,298.50 90.20,261.80 113.80,274.00 179.60,273.50 211.50,275.60 214.60,299.90 220.00,258.50 243.50,270.60 276.30,272.30 373.20,271.50 376.60,300.00 380.50,260.00 406.10,275.50" fill="none" stroke="#000" stroke-width="1.8" stroke-linejoin="round" stroke-dasharray="4.8 2.7 1.5 2.7"/>
<polyline points="81.60,304.80 84.40,320.80 90.30,267.40 114.20,294.10 179.60,291.40 211.00,291.50 215.00,318.50 220.00,259.70 244.40,281.80 276.30,279.20 373.20,282.70 377.60,321.70 382.50,251.60 406.10,275.20" fill="none" stroke="#000" stroke-width="1.8" stroke-linejoin="round" stroke-dasharray="4.6 3.8"/>
<polyline points="81.90,380.20 85.00,364.80 90.60,389.00 114.50,382.30 180.00,384.60 211.80,385.80 214.90,352.80 220.50,390.80 243.80,349.30 276.90,350.70 373.80,352.90 375.90,263.50 381.90,257.20 406.40,371.40" fill="none" stroke="#000" stroke-width="1.9" stroke-linejoin="round" />
<polygon points="81.70,274.53 85.00,279.93 78.40,279.93" fill="#fff" stroke="#000" stroke-width="1.3" stroke-linejoin="round"/>
<polygon points="84.70,295.53 88.00,300.93 81.40,300.93" fill="#fff" stroke="#000" stroke-width="1.3" stroke-linejoin="round"/>
<polygon points="90.20,258.83 93.50,264.23 86.90,264.23" fill="#fff" stroke="#000" stroke-width="1.3" stroke-linejoin="round"/>
<polygon points="113.80,271.03 117.10,276.43 110.50,276.43" fill="#fff" stroke="#000" stroke-width="1.3" stroke-linejoin="round"/>
<polygon points="179.60,270.53 182.90,275.93 176.30,275.93" fill="#fff" stroke="#000" stroke-width="1.3" stroke-linejoin="round"/>
<polygon points="211.50,272.63 214.80,278.03 208.20,278.03" fill="#fff" stroke="#000" stroke-width="1.3" stroke-linejoin="round"/>
<polygon points="214.60,296.93 217.90,302.33 211.30,302.33" fill="#fff" stroke="#000" stroke-width="1.3" stroke-linejoin="round"/>
<polygon points="220.00,255.53 223.30,260.93 216.70,260.93" fill="#fff" stroke="#000" stroke-width="1.3" stroke-linejoin="round"/>
<polygon points="243.50,267.63 246.80,273.03 240.20,273.03" fill="#fff" stroke="#000" stroke-width="1.3" stroke-linejoin="round"/>
<polygon points="276.30,269.33 279.60,274.73 273.00,274.73" fill="#fff" stroke="#000" stroke-width="1.3" stroke-linejoin="round"/>
<polygon points="373.20,268.53 376.50,273.93 369.90,273.93" fill="#fff" stroke="#000" stroke-width="1.3" stroke-linejoin="round"/>
<polygon points="376.60,297.03 379.90,302.43 373.30,302.43" fill="#fff" stroke="#000" stroke-width="1.3" stroke-linejoin="round"/>
<circle cx="81.60" cy="304.80" r="3.0" fill="#fff" stroke="#000" stroke-width="1.4"/>
<circle cx="84.40" cy="320.80" r="3.0" fill="#fff" stroke="#000" stroke-width="1.4"/>
<circle cx="90.30" cy="267.40" r="3.0" fill="#fff" stroke="#000" stroke-width="1.4"/>
<circle cx="114.20" cy="294.10" r="3.0" fill="#fff" stroke="#000" stroke-width="1.4"/>
<circle cx="179.60" cy="291.40" r="3.0" fill="#fff" stroke="#000" stroke-width="1.4"/>
<circle cx="211.00" cy="291.50" r="3.0" fill="#fff" stroke="#000" stroke-width="1.4"/>
<circle cx="215.00" cy="318.50" r="3.0" fill="#fff" stroke="#000" stroke-width="1.4"/>
<circle cx="220.00" cy="259.70" r="3.0" fill="#fff" stroke="#000" stroke-width="1.4"/>
<circle cx="244.40" cy="281.80" r="3.0" fill="#fff" stroke="#000" stroke-width="1.4"/>
<circle cx="276.30" cy="279.20" r="3.0" fill="#fff" stroke="#000" stroke-width="1.4"/>
<circle cx="373.20" cy="282.70" r="3.0" fill="#fff" stroke="#000" stroke-width="1.4"/>
<circle cx="377.60" cy="321.70" r="3.0" fill="#fff" stroke="#000" stroke-width="1.4"/>
<circle cx="382.50" cy="251.60" r="3.0" fill="#fff" stroke="#000" stroke-width="1.4"/>
<circle cx="406.10" cy="275.20" r="3.0" fill="#fff" stroke="#000" stroke-width="1.4"/>
<path d="M81.90,376.60L85.50,380.20L81.90,383.80L78.30,380.20Z" fill="#fff" stroke="#000" stroke-width="1.3" stroke-linejoin="miter"/>
<path d="M85.00,361.20L88.60,364.80L85.00,368.40L81.40,364.80Z" fill="#fff" stroke="#000" stroke-width="1.3" stroke-linejoin="miter"/>
<path d="M90.60,385.40L94.20,389.00L90.60,392.60L87.00,389.00Z" fill="#fff" stroke="#000" stroke-width="1.3" stroke-linejoin="miter"/>
<path d="M114.50,378.70L118.10,382.30L114.50,385.90L110.90,382.30Z" fill="#fff" stroke="#000" stroke-width="1.3" stroke-linejoin="miter"/>
<path d="M180.00,381.00L183.60,384.60L180.00,388.20L176.40,384.60Z" fill="#fff" stroke="#000" stroke-width="1.3" stroke-linejoin="miter"/>
<path d="M211.80,382.20L215.40,385.80L211.80,389.40L208.20,385.80Z" fill="#fff" stroke="#000" stroke-width="1.3" stroke-linejoin="miter"/>
<path d="M214.90,349.20L218.50,352.80L214.90,356.40L211.30,352.80Z" fill="#fff" stroke="#000" stroke-width="1.3" stroke-linejoin="miter"/>
<path d="M220.50,387.20L224.10,390.80L220.50,394.40L216.90,390.80Z" fill="#fff" stroke="#000" stroke-width="1.3" stroke-linejoin="miter"/>
<path d="M243.80,345.70L247.40,349.30L243.80,352.90L240.20,349.30Z" fill="#fff" stroke="#000" stroke-width="1.3" stroke-linejoin="miter"/>
<path d="M276.90,347.10L280.50,350.70L276.90,354.30L273.30,350.70Z" fill="#fff" stroke="#000" stroke-width="1.3" stroke-linejoin="miter"/>
<path d="M373.80,349.30L377.40,352.90L373.80,356.50L370.20,352.90Z" fill="#fff" stroke="#000" stroke-width="1.3" stroke-linejoin="miter"/>
<path d="M375.90,259.90L379.50,263.50L375.90,267.10L372.30,263.50Z" fill="#fff" stroke="#000" stroke-width="1.3" stroke-linejoin="miter"/>
<path d="M381.90,253.60L385.50,257.20L381.90,260.80L378.30,257.20Z" fill="#fff" stroke="#000" stroke-width="1.3" stroke-linejoin="miter"/>
<path d="M406.40,367.80L410.00,371.40L406.40,375.00L402.80,371.40Z" fill="#fff" stroke="#000" stroke-width="1.3" stroke-linejoin="miter"/>
<path d="M72.8,398.2L83.8,393.9L84.1,395.3L78.3,397.9L78.3,398.5L84.1,401.09999999999997L83.8,402.5Z" fill="#000"/>
<path d="M98.9,398.2L87.9,393.9L87.60000000000001,395.3L93.4,397.9L93.4,398.5L87.60000000000001,401.09999999999997L87.9,402.5Z" fill="#000"/>
<line x1="74.80" y1="398.20" x2="96.90" y2="398.20" stroke="#000" stroke-width="1.3" />
<text x="85.10" y="410.40" font-size="9.2" font-family="Liberation Sans, sans-serif" font-weight="bold" text-anchor="middle" textLength="15.6" lengthAdjust="spacingAndGlyphs" >IL-2</text>
<path d="M203.1,398.8L214.1,394.5L214.4,395.90000000000003L208.6,398.5L208.6,399.1L214.4,401.7L214.1,403.1Z" fill="#000"/>
<path d="M229.0,398.8L218.0,394.5L217.7,395.90000000000003L223.5,398.5L223.5,399.1L217.7,401.7L218.0,403.1Z" fill="#000"/>
<line x1="205.10" y1="398.80" x2="227.00" y2="398.80" stroke="#000" stroke-width="1.3" />
<text x="215.90" y="409.90" font-size="9.2" font-family="Liberation Sans, sans-serif" font-weight="bold" text-anchor="middle" textLength="15.6" lengthAdjust="spacingAndGlyphs" >IL-2</text>
<path d="M365.4,364.3L376.4,360.0L376.7,361.40000000000003L370.9,364.0L370.9,364.6L376.7,367.2L376.4,368.6Z" fill="#000"/>
<path d="M391.4,364.3L380.4,360.0L380.09999999999997,361.40000000000003L385.9,364.0L385.9,364.6L380.09999999999997,367.2L380.4,368.6Z" fill="#000"/>
<line x1="367.40" y1="364.30" x2="389.40" y2="364.30" stroke="#000" stroke-width="1.3" />
<text x="377.30" y="376.30" font-size="9.2" font-family="Liberation Sans, sans-serif" font-weight="bold" text-anchor="middle" textLength="15.6" lengthAdjust="spacingAndGlyphs" >IL-2</text>
</svg>
</body></html>
